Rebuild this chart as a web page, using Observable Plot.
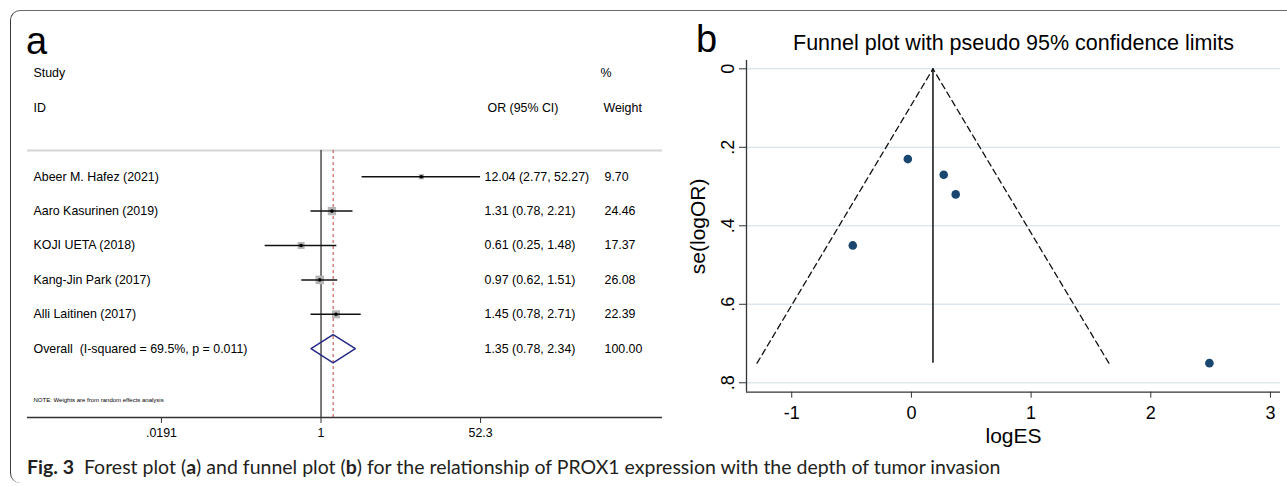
<!DOCTYPE html>
<html>
<head>
<meta charset="utf-8">
<script src="https://cdn.jsdelivr.net/npm/d3@7"></script>
<script src="https://cdn.jsdelivr.net/npm/@observablehq/plot@0.6"></script>
<style>
  html, body { margin: 0; padding: 0; background: #fff; overflow: hidden; }
  #page { position: relative; width: 1287px; height: 486px; overflow: hidden; background: #fff; }
  #frame { position: absolute; left: 10px; top: 10px; width: 1300px; height: 473px;
           border-top: 1.5px solid #6a6a6a; border-left: 1.5px solid #3a3a3a;
           border-radius: 10px 0 0 10px; box-sizing: border-box; }
  .panel-label { position: absolute; font-family: "Liberation Sans", Arial, sans-serif; font-size: 38px; line-height: 1; color: #000; }
  #caption { position: absolute; left: 27px; top: 456.5px; font-family: Lato, "Open Sans", sans-serif; font-size: 19.5px; line-height: 1; color: #231f20; white-space: nowrap; }
  #forest, #funnel { position: absolute; top: 0; }
  #forest { left: 0; }
  #funnel { left: 680px; }
</style>
</head>
<body>
<div id="page">
  <div id="frame"></div>
  <div id="forest"></div>
  <div id="funnel"></div>
  <div class="panel-label" style="left:26px; top:22px;">a</div>
  <div class="panel-label" style="left:696px; top:20px;">b</div>
  <div id="caption"><b>Fig. 3</b>&nbsp; Forest plot (<b>a</b>) and funnel plot (<b>b</b>) for the relationship of PROX1 expression with the depth of tumor invasion</div>
</div>
<script>
// ---------- Forest plot data (panel a) ----------
const studies = ["Abeer M. Hafez (2021)", "Aaro Kasurinen (2019)", "KOJI UETA (2018)", "Kang-Jin Park (2017)", "Alli Laitinen (2017)"];
const orValues = [12.04, 1.31, 0.61, 0.97, 1.45];
const ciLow = [2.77, 0.78, 0.25, 0.62, 0.78];
const ciHigh = [52.27, 2.21, 1.48, 1.51, 2.71];
const weights = [9.70, 24.46, 17.37, 26.08, 22.39];
const overallLabel = "Overall\u00a0\u00a0(I-squared = 69.5%, p = 0.011)";
const overallOR = 1.35;
const overallLow = 0.78;
const overallHigh = 2.34;
const overallWeight = 100.00;
const forestTicks = [0.0191, 1, 52.3];
const forestTickLabels = [".0191", "1", "52.3"];
const noteText = "NOTE: Weights are from random effects analysis";

// ---------- Funnel plot data (panel b) ----------
const funnelLogES = [2.49, 0.27, -0.49, -0.03, 0.37];
const funnelSE = [0.75, 0.27, 0.45, 0.23, 0.32];
const pooledLogES = 0.18;
const maxSE = 0.75;
const funnelXTicks = [-1, 0, 1, 2, 3];
const funnelYTicks = [0, 0.2, 0.4, 0.6, 0.8];
const funnelTitle = "Funnel plot with pseudo 95% confidence limits";

// ---------- Forest plot ----------
const FONT = "'Liberation Sans', Arial, sans-serif";
const firstRow = 3;           // rows 0,1 are headers, row 2 is gap
const sepRow = 2.24;          // grey separator line
const axisRow = 10;           // bottom axis
const rows = studies.map((s, i) => ({
  study: s, or: orValues[i], lo: ciLow[i], hi: ciHigh[i], w: weights[i], row: firstRow + i
}));
const overallRow = firstRow + studies.length;
const allRows = rows.concat([{study: overallLabel, or: overallOR, lo: overallLow, hi: overallHigh, w: overallWeight, row: overallRow}]);
const diamondHalf = 0.41;
const diamond = [
  {x: overallLow, y: overallRow}, {x: overallOR, y: overallRow - diamondHalf},
  {x: overallHigh, y: overallRow}, {x: overallOR, y: overallRow + diamondHalf},
  {x: overallLow, y: overallRow}
];
const headers = [
  {t: "Study", r: 0, dx: 6}, {t: "%", r: 0, dx: 573},
  {t: "ID", r: 1, dx: 6}, {t: "OR (95% CI)", r: 1, dx: 460}, {t: "Weight", r: 1, dx: 576}
];
const f2 = d3.format(".2f");
const forestTickData = forestTicks.map((v, i) => ({v, label: forestTickLabels[i]}));

const forest = Plot.plot({
  width: 680, height: 450,
  marginLeft: 27, marginRight: 18, marginTop: 73, marginBottom: 33,
  x: {type: "log", domain: [Math.pow(10, -3.1616), Math.pow(10, 3.678)]},
  y: {domain: [0, axisRow], reverse: true, axis: null},
  r: {type: "sqrt", domain: [0, 100], range: [0, 9.5]},
  style: {fontFamily: FONT, fontSize: "12.4px", background: "transparent", color: "#000"},
  marks: [
    Plot.ruleY([sepRow], {stroke: "#d6d6d6", strokeWidth: 2}),
    Plot.ruleX([1], {y1: sepRow, y2: axisRow, stroke: "#222", strokeWidth: 1.2}),
    Plot.ruleX([overallOR], {y1: sepRow, y2: axisRow, stroke: "#b8413b", strokeWidth: 1, strokeDasharray: "3,3"}),
    Plot.dot(rows, {x: "or", y: "row", r: "w", symbol: "square", fill: "#b5b5b5"}),
    Plot.ruleY(rows, {y: "row", x1: "lo", x2: "hi", stroke: "#111", strokeWidth: 1.5}),
    Plot.dot(rows, {x: "or", y: "row", r: 1.8, fill: "#000"}),
    Plot.line(diamond, {x: "x", y: "y", stroke: "#262a87", strokeWidth: 1.5}),
    Plot.ruleY([axisRow], {stroke: "#333", strokeWidth: 1.3}),
    Plot.axisX(forestTicks, {anchor: "bottom", tickSize: 6, text: null, label: null, stroke: "#333"}),
    Plot.text(forestTickData, {x: "v", text: "label", frameAnchor: "bottom", dy: 16, textAnchor: "middle", lineAnchor: "middle", fill: "#000"}),
    ...headers.map(h => Plot.text([h], {y: "r", text: "t", frameAnchor: "left", dx: h.dx, textAnchor: "start", fill: "#000"})),
    Plot.text(allRows, {y: "row", text: "study", frameAnchor: "left", dx: 6, textAnchor: "start", fill: "#000"}),
    Plot.text(allRows, {y: "row", text: d => `${f2(d.or)} (${f2(d.lo)}, ${f2(d.hi)})`, frameAnchor: "left", dx: 457, textAnchor: "start", fill: "#000"}),
    Plot.text(allRows, {y: "row", text: d => f2(d.w), frameAnchor: "left", dx: 577, textAnchor: "start", fill: "#000"}),
    Plot.text([noteText], {y: [9.5], text: d => d, frameAnchor: "left", dx: 6, textAnchor: "start", fontSize: 6, fill: "#000"})
  ]
});
document.getElementById("forest").appendChild(forest);

// ---------- Funnel plot ----------
const funnelPts = funnelLogES.map((x, i) => ({x, se: funnelSE[i]}));
const limitLines = [
  {x: pooledLogES - 1.96 * maxSE, y: maxSE},
  {x: pooledLogES, y: 0},
  {x: pooledLogES + 1.96 * maxSE, y: maxSE}
];
const xMin = -1.378, xMax = 3.084, yMin = -0.0212, yMax = 0.824;
const yFmt = d => d === 0 ? "0" : String(d).replace(/^0/, "");

const funnel = Plot.plot({
  width: 607, height: 450,
  marginLeft: 66, marginRight: 7, marginTop: 60, marginBottom: 58.3,
  x: {domain: [xMin, xMax]},
  y: {domain: [yMin, yMax], reverse: true, axis: null},
  style: {fontFamily: FONT, background: "transparent", color: "#000"},
  marks: [
    Plot.gridY(funnelYTicks, {stroke: "#dde8ee", strokeOpacity: 1, strokeWidth: 1.5}),
    Plot.ruleX([xMin], {stroke: "#333", strokeWidth: 1.3}),
    Plot.ruleY([yMax], {stroke: "#333", strokeWidth: 1.3}),
    Plot.axisY(funnelYTicks, {anchor: "left", tickSize: 7, text: null, stroke: "#333", label: null}),
    Plot.text(funnelYTicks, {y: d => d, text: yFmt, frameAnchor: "left", dx: -18, rotate: -90, textAnchor: "middle", lineAnchor: "middle", fontSize: 18, fill: "#000"}),
    Plot.axisX(funnelXTicks, {anchor: "bottom", tickSize: 6, tickPadding: 8.5, fontSize: 18, tickFormat: d => String(d), label: null, stroke: "#333"}),
    Plot.text(["se(logOR)"], {text: d => d, frameAnchor: "left", dx: -48, rotate: -90, textAnchor: "middle", lineAnchor: "middle", fontSize: 21, fill: "#000"}),
    Plot.text(["logES"], {text: d => d, frameAnchor: "bottom", dy: 44.3, textAnchor: "middle", lineAnchor: "middle", fontSize: 21, fill: "#000"}),
    Plot.text([funnelTitle], {text: d => d, frameAnchor: "top", dy: -17, textAnchor: "middle", lineAnchor: "middle", fontSize: 21.5, fill: "#000"}),
    Plot.line(limitLines, {x: "x", y: "y", stroke: "#111", strokeWidth: 1.3, strokeDasharray: "6,4"}),
    Plot.ruleX([pooledLogES], {y1: 0, y2: maxSE, stroke: "#111", strokeWidth: 1.5}),
    Plot.dot(funnelPts, {x: "x", y: "se", r: 4.3, fill: "#1a476f", stroke: "none"})
  ]
});
document.getElementById("funnel").appendChild(funnel);
</script>
</body>
</html>
